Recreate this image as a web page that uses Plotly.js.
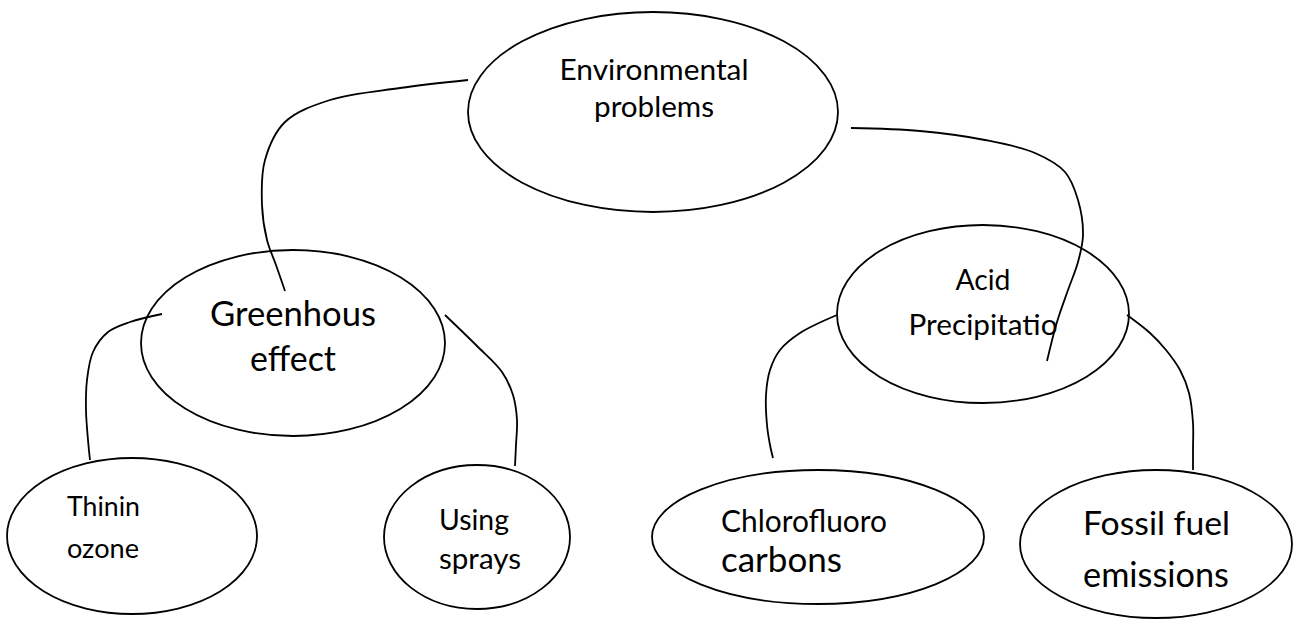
<!DOCTYPE html>
<html>
<head>
<meta charset="utf-8">
<script src="https://cdn.plot.ly/plotly-3.0.1.min.js"></script>
<style>
html,body{margin:0;padding:0;background:#fff;}
#chart{width:1294px;height:619px;}
</style>
</head>
<body>
<div id="chart"></div>
<script>
// ---- data ----
const nodeNames = ["Environmental problems", "Greenhous effect", "Acid Precipitatio", "Thinin ozone", "Using sprays", "Chlorofluoro carbons", "Fossil fuel emissions"];
const nodeLines = [["Environmental", "problems"], ["Greenhous", "effect"], ["Acid", "Precipitatio"], ["Thinin", "ozone"], ["Using", "sprays"], ["Chlorofluoro", "carbons"], ["Fossil fuel", "emissions"]];
const nodeCx = [653, 293, 983, 132, 477, 818, 1156];
const nodeCy = [112, 343, 314, 536, 537, 537, 544];
const nodeRx = [185, 152, 146, 125, 93, 166, 136];
const nodeRy = [100, 93, 89, 78, 72, 67, 74];

const edgeFrom = [0, 1, 1, 0, 2, 2];
const edgeTo   = [1, 3, 4, 2, 5, 6];
const edgeX = [
  [468, 400, 330, 285, 265, 262, 267, 276, 285],
  [162, 130, 108, 93, 87, 86, 88, 90],
  [445, 478, 502, 513, 517, 516, 515],
  [851, 920, 985, 1035, 1065, 1078, 1083, 1078, 1068, 1057, 1047],
  [837, 800, 780, 770, 766, 767, 770, 773],
  [1127, 1150, 1166, 1180, 1189, 1193, 1193, 1193]
];
const edgeY = [
  [80, 88, 100, 122, 160, 205, 240, 265, 291],
  [314, 322, 332, 352, 380, 410, 440, 460],
  [315, 347, 372, 395, 420, 445, 466],
  [128, 131, 140, 153, 172, 200, 235, 262, 290, 322, 361],
  [315, 333, 350, 370, 395, 425, 445, 458],
  [315, 333, 350, 370, 393, 423, 450, 470]
];

// ---- text layout (styling, not data) ----
const textAlign = ["center", "center", "center", "left", "left", "left", "left"];
const textAnchorX = [654, 293, 983, 67, 439, 721, 1083];
const textBaselines = [[83, 120], [329, 374], [293, 338], [519, 561], [533, 572], [535, 575], [538, 590]];
const textWidths = [[189, 120], [166, 86], [55, 149], [73, 72], [70, 82], [166, 121], [147, 146]];
const FONT = "Lato";

const canvas = document.createElement("canvas");
const ctx = canvas.getContext("2d");
ctx.font = "100px " + FONT;
function fitSize(str, target) {
  const w = ctx.measureText(str).width;
  return 100 * target / w;
}

const traces = [];
// connectors
for (let i = 0; i < edgeFrom.length; i++) {
  traces.push({
    type: "scatter", mode: "lines",
    x: edgeX[i], y: edgeY[i],
    line: {color: "#000", width: 1.8, shape: "spline", smoothing: 1},
    hoverinfo: "skip", name: nodeNames[edgeFrom[i]] + " → " + nodeNames[edgeTo[i]]
  });
}
// labels
for (let i = 0; i < nodeLines.length; i++) {
  const lines = nodeLines[i];
  for (let j = 0; j < lines.length; j++) {
    const size = fitSize(lines[j], textWidths[i][j]);
    const cx = textAlign[i] === "center" ? textAnchorX[i] : textAnchorX[i] + textWidths[i][j] / 2;
    const cy = textBaselines[i][j] - 0.35 * size;
    traces.push({
      type: "scatter", mode: "text",
      x: [cx], y: [cy], text: [lines[j]],
      textposition: "middle center",
      textfont: {family: FONT, size: size, color: "#000"},
      hoverinfo: "skip", name: nodeNames[i]
    });
  }
}

const shapes = nodeCx.map((cx, i) => ({
  type: "circle", xref: "x", yref: "y",
  x0: cx - nodeRx[i], x1: cx + nodeRx[i],
  y0: nodeCy[i] - nodeRy[i], y1: nodeCy[i] + nodeRy[i],
  line: {color: "#000", width: 1.8},
  fillcolor: "rgba(0,0,0,0)"
}));

const layout = {
  width: 1294, height: 619,
  margin: {l: 0, r: 0, t: 0, b: 0, pad: 0},
  paper_bgcolor: "#fff", plot_bgcolor: "#fff",
  showlegend: false,
  xaxis: {range: [0, 1294], visible: false, fixedrange: true},
  yaxis: {range: [619, 0], visible: false, fixedrange: true},
  shapes: shapes
};

Plotly.newPlot("chart", traces, layout, {displayModeBar: false, staticPlot: true});
</script>
</body>
</html>
